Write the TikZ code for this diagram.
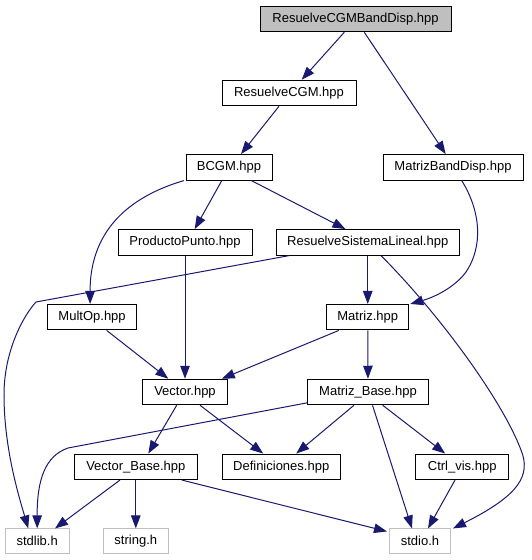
\documentclass[tikz,border=0pt]{standalone}
\usepackage{fontspec}
\setmainfont{Liberation Sans}
\usetikzlibrary{arrows.meta}
\definecolor{edgec}{HTML}{191970}
\definecolor{grayc}{HTML}{BFBFBF}
\begin{document}
\begin{tikzpicture}[x=1pt,y=-1pt,
  box/.style={draw=black, line width=1pt, rectangle, inner sep=0pt, minimum height=25.5pt, font=\fontsize{13}{15}\selectfont, fill=white},
  sysbox/.style={box, draw=grayc, minimum height=24.5pt},
  dep/.style={draw=edgec, line width=1pt, -{Triangle[length=13pt,width=9.5pt]}},
]
\useasboundingbox (0,0) rectangle (531,560);
\node[box, fill=grayc, minimum width=191pt] (rcbd) at (355.5,19) {ResuelveCGMBandDisp.hpp};
\node[box, minimum width=134pt] (rcgm) at (289,93) {ResuelveCGM.hpp};
\node[box, minimum width=86pt] (bcgm) at (229,167.3) {BCGM.hpp};
\node[box, minimum width=140pt] (mbd) at (453,167.3) {MatrizBandDisp.hpp};
\node[box, minimum width=134pt] (pp) at (185,242.3) {ProductoPunto.hpp};
\node[box, minimum width=183.5pt] (rsl) at (367.75,242.3) {ResuelveSistemaLineal.hpp};
\node[box, minimum width=89.4pt] (mult) at (92.1,317.2) {MultOp.hpp};
\node[box, minimum width=82pt] (matriz) at (367.75,317.2) {Matriz.hpp};
\node[box, minimum width=85.7pt] (vector) at (185,392) {Vector.hpp};
\node[box, minimum width=121pt] (mbase) at (368,392) {Matriz\_Base.hpp};
\node[box, minimum width=122.6pt] (vbase) at (135.8,466.8) {Vector\_Base.hpp};
\node[box, minimum width=118.2pt] (defs) at (281.2,466.8) {Definiciones.hpp};
\node[box, minimum width=92.8pt] (ctrl) at (462.2,466.8) {Ctrl\_vis.hpp};
\node[sysbox, minimum width=64.4pt] (stdlib) at (37.2,541.2) {stdlib.h};
\node[sysbox, minimum width=65pt] (string) at (135.8,541.2) {string.h};
\node[sysbox, minimum width=61pt] (stdio) at (420,541.2) {stdio.h};

\draw[dep] ([xshift=-11.2pt]rcbd.south) -- ([xshift=12.7pt]rcgm.north);
\draw[dep] ([xshift=8.8pt]rcbd.south) -- ([xshift=-7.3pt]mbd.north);
\draw[dep] ([xshift=-10pt]rcgm.south) -- ([xshift=12pt]bcgm.north);
\draw[dep] ([xshift=-1.5pt]bcgm.south west) .. controls (118,200) and (90,240) .. ([xshift=-2pt]mult.north);
\draw[dep] ([xshift=-7.2pt]bcgm.south) -- ([xshift=9.7pt]pp.north);
\draw[dep] ([xshift=22.3pt]bcgm.south) -- ([xshift=-22.3pt]rsl.north);
\draw[dep] ([xshift=8.7pt]mbd.south) .. controls (480,210) and (484,245) .. (466,272) .. controls (455,287) and (435,297) .. ([xshift=1pt]matriz.north east);
\draw[dep] ([xshift=-78.25pt]rsl.south) -- (36,302) .. controls (24,315) and (4,350) .. (4,395) .. controls (4,450) and (20,500) .. ([xshift=-9pt]stdlib.north);
\draw[dep] (rsl) -- (matriz);
\draw[dep] ([xshift=13.25pt]rsl.south) .. controls (440,315) and (502,400) .. (521,450) .. controls (531,475) and (520,495) .. ([xshift=2pt]stdio.north east);
\draw[dep] (pp) -- (vector);
\draw[dep] ([xshift=14.6pt]mult.south) -- ([xshift=-16.7pt]vector.north);
\draw[dep] ([xshift=-29pt]matriz.south) -- ([xshift=36.8pt]vector.north);
\draw[dep] (matriz) -- (mbase);
\draw[dep] ([xshift=-8.3pt]vector.south) -- ([xshift=12.5pt]vbase.north);
\draw[dep] ([xshift=15pt]vector.south) -- ([xshift=-18pt]defs.north);
\draw[dep] ([yshift=2.4pt]mbase.south west) -- (68,448) .. controls (45,456) and (37,480) .. (stdlib.north);
\draw[dep] ([xshift=-14pt]mbase.south) -- ([xshift=15pt]defs.north);
\draw[dep] ([xshift=4.5pt]mbase.south) -- ([xshift=-8pt]stdio.north);
\draw[dep] ([xshift=14.7pt]mbase.south) -- ([xshift=-17pt]ctrl.north);
\draw[dep] ([xshift=-15.8pt]vbase.south) -- ([xshift=17.8pt]stdlib.north);
\draw[dep] (vbase) -- (string);
\draw[dep] ([xshift=46pt]vbase.south) -- ([xshift=-2pt,yshift=-3pt]stdio.north west);
\draw[dep] ([xshift=-7.2pt]ctrl.south) -- ([xshift=8pt]stdio.north);
\end{tikzpicture}
\end{document}
